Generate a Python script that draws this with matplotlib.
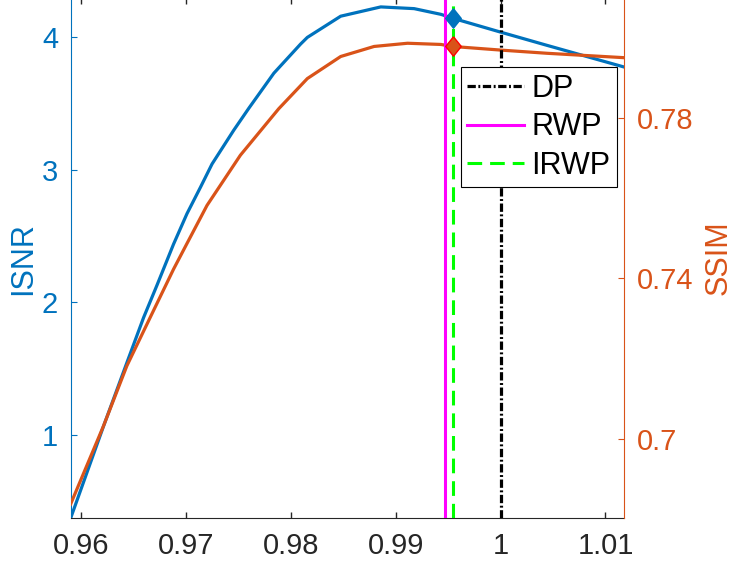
"""
plot.py

ISNR and SSIM against the regularisation ratio, with the DP / RWP / IRWP choices.
"""

import matplotlib
matplotlib.use("Agg")
import matplotlib.pyplot as plt

plt.rcParams['font.family'] = ['Liberation Sans', 'DejaVu Sans']

BLUE = '#0072BD'
ORANGE = '#D95319'
GRAY = '#262626'

# ISNR curve (left axis)
x_isnr = [0.95904, 0.96216, 0.96439, 0.96598, 0.96726, 0.96884, 0.97012, 0.97141,
          0.97251, 0.97458, 0.97601, 0.97840, 0.98095, 0.98159, 0.98477, 0.98859,
          0.99177, 0.99432, 0.99543, 1.0, 1.00443, 1.0118]
isnr = [0.374, 1.065, 1.545, 1.885, 2.13, 2.44, 2.67, 2.87,
        3.045, 3.30, 3.465, 3.73, 3.95, 4.0, 4.16, 4.230,
        4.217, 4.174, 4.145, 4.04, 3.94, 3.776]

# SSIM curve (right axis)
x_ssim = [0.95904, 0.96216, 0.96439, 0.96662, 0.96884, 0.97012, 0.97203, 0.97521,
          0.97808, 0.97887, 0.98159, 0.98477, 0.98795, 0.99114, 0.99432, 0.99543,
          1.0, 1.00443, 1.0118]
ssim = [0.6838, 0.7032, 0.7182, 0.7303, 0.7423, 0.7487, 0.7582, 0.7707,
        0.7798, 0.7823, 0.7898, 0.7953, 0.7978, 0.7986, 0.7983, 0.7978,
        0.7969, 0.7961, 0.795]

# parameter choices
x_dp = 1.0
x_rwp = 0.99470
x_irwp = 0.99546
isnr_irwp = 4.145
ssim_irwp = 0.7978

xticks = [0.96, 0.97, 0.98, 0.99, 1.0, 1.01]
xticklabels = ['0.96', '0.97', '0.98', '0.99', '1', '1.01']
isnr_ticks = [1, 2, 3, 4]
ssim_ticks = [0.70, 0.74, 0.78]
ssim_ticklabels = ['0.7', '0.74', '0.78']

# MATLAB style diamond, a bit wider than matplotlib's thin one
DIAMOND = [(0, 1), (0.8, 0), (0, -1), (-0.8, 0), (0, 1)]


def main():
    fig = plt.figure(figsize=(7.38, 5.67), dpi=100)
    ax1 = fig.add_axes([0.0958, 0.0864, 0.7502, 0.9166])
    ax2 = ax1.twinx()

    ax1.plot(x_isnr, isnr, color=BLUE, lw=2.3)
    ax2.plot(x_ssim, ssim, color=ORANGE, lw=2.3)

    h_dp = ax2.axvline(x_dp, color='black', ls='-.', lw=2.3,
                       dashes=(2.6, 0.8, 0.6, 0.8), label='DP')
    h_rwp = ax2.axvline(x_rwp, color='#FF00FF', ls='-', lw=2.2, label='RWP')
    h_irwp = ax2.axvline(x_irwp, color='#00FF00', ls='--', lw=2.2,
                         dashes=(4.8, 2.6), label='IRWP')

    # markers on top of the vertical lines
    ax2.plot([x_irwp], [isnr_irwp], marker=DIAMOND, color=BLUE, markersize=14,
             ls='none', transform=ax1.transData, zorder=5)
    ax2.plot([x_irwp], [ssim_irwp], marker=DIAMOND, markerfacecolor=ORANGE,
             markeredgecolor='red', markeredgewidth=1, markersize=14, ls='none',
             zorder=5)

    ax1.set_xlim(0.95904, 1.0118)
    ax1.set_ylim(0.374, 4.295)
    ax2.set_ylim(0.6803, 0.8098)

    ax1.set_xticks(xticks)
    ax1.set_xticklabels(xticklabels)
    ax1.set_yticks(isnr_ticks)
    ax2.set_yticks(ssim_ticks)
    ax2.set_yticklabels(ssim_ticklabels)

    ax1.tick_params(axis='x', direction='in', length=4, width=1, top=True,
                    colors=GRAY, labelsize=21, pad=10)
    ax1.tick_params(axis='y', direction='in', length=4, colors=BLUE,
                    labelsize=21, pad=9)
    ax2.tick_params(axis='y', direction='in', length=4, colors=ORANGE,
                    labelsize=21, pad=9)

    for ax in (ax1, ax2):
        ax.spines['top'].set_visible(False)
    ax1.spines['right'].set_visible(False)
    ax2.spines['left'].set_visible(False)
    ax1.spines['left'].set_color(BLUE)
    ax2.spines['right'].set_color(ORANGE)
    ax1.spines['bottom'].set_color(GRAY)
    ax2.spines['bottom'].set_visible(False)

    ax1.set_ylabel('ISNR', color=BLUE, fontsize=22, labelpad=3)
    ax2.set_ylabel('SSIM', color=ORANGE, fontsize=22, rotation=90, labelpad=7)

    leg = ax2.legend(handles=[h_dp, h_rwp, h_irwp], loc='upper right',
                     bbox_to_anchor=(617.3 / 738, 1 - 67.3 / 567),
                     bbox_transform=fig.transFigure, fontsize=22,
                     fancybox=False, framealpha=1, edgecolor='black',
                     handlelength=1.85, handletextpad=0.25, labelspacing=0.27,
                     borderpad=0.22, borderaxespad=0)
    leg.get_frame().set_linewidth(0.8)
    leg.set_zorder(10)

    fig.savefig('out.png', dpi=100)


if __name__ == "__main__":
    main()
